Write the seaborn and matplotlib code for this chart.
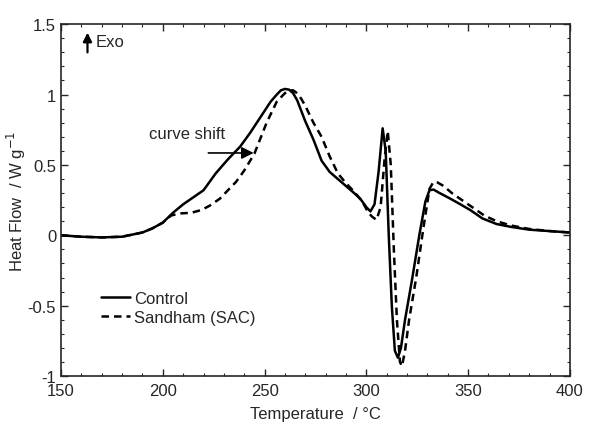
import numpy as np
import pandas as pd
import matplotlib
matplotlib.use("Agg")
import matplotlib.pyplot as plt
from matplotlib.ticker import MultipleLocator, FuncFormatter
import seaborn as sns

control_x = [150, 160, 170, 180, 190, 195, 200, 205, 210, 215, 220, 226, 232, 238, 243, 248, 253, 256, 258, 260,
             262, 264, 266, 270, 274, 278, 282, 286, 290, 294, 297, 300, 302, 304, 306, 308, 309.5, 311, 312.5,
             314, 315.5, 317, 319, 322.5, 326, 329, 331, 333, 336, 340, 345, 351, 357, 364, 371, 380, 390, 400]
control_y = [0.00, -0.01, -0.015, -0.01, 0.02, 0.05, 0.09, 0.16, 0.22, 0.27, 0.32, 0.44, 0.54, 0.63, 0.73, 0.84,
             0.95, 1.00, 1.03, 1.04, 1.035, 1.01, 0.96, 0.81, 0.68, 0.53, 0.45, 0.40, 0.35, 0.30, 0.26, 0.20,
             0.17, 0.22, 0.45, 0.76, 0.60, 0.00, -0.50, -0.82, -0.87, -0.80, -0.60, -0.31, 0.00, 0.24, 0.32,
             0.325, 0.30, 0.27, 0.23, 0.18, 0.12, 0.08, 0.06, 0.04, 0.03, 0.02]

sandham_x = [150, 160, 170, 180, 190, 195, 200, 204, 208, 214, 219, 223, 228, 232, 236, 240, 245, 251, 256, 260,
             262, 264, 266, 268, 270, 274, 278, 282, 286, 290, 294, 298, 301, 303, 305, 307, 309, 310.5, 312,
             313.5, 315, 316.5, 317.5, 319, 321, 324.5, 328, 331, 333, 335, 338, 342, 347, 352, 358, 364, 371,
             380, 390, 400]
sandham_y = [0.00, -0.01, -0.015, -0.01, 0.02, 0.05, 0.09, 0.14, 0.155, 0.16, 0.18, 0.21, 0.26, 0.32, 0.38, 0.46,
             0.58, 0.80, 0.95, 1.01, 1.03, 1.03, 1.01, 0.97, 0.92, 0.80, 0.70, 0.56, 0.44, 0.37, 0.31, 0.24, 0.16,
             0.13, 0.11, 0.20, 0.55, 0.74, 0.50, -0.10, -0.60, -0.90, -0.93, -0.82, -0.60, -0.30, 0.05, 0.33,
             0.38, 0.375, 0.35, 0.30, 0.25, 0.20, 0.14, 0.10, 0.07, 0.045, 0.03, 0.02]

series_names = ["Control", "Sandham (SAC)"]

sns.set_style("ticks")
plt.rcParams['font.family'] = ['Liberation Sans', 'DejaVu Sans']

df = pd.concat([
    pd.DataFrame({"T": control_x, "HF": control_y, "Sample": series_names[0]}),
    pd.DataFrame({"T": sandham_x, "HF": sandham_y, "Sample": series_names[1]}),
])

fig = plt.figure(figsize=(5.89, 4.27), dpi=100)
ax = fig.add_axes([0.1036, 0.117, 0.864, 0.824])

sns.lineplot(data=df, x="T", y="HF", hue="Sample", style="Sample",
             palette={series_names[0]: "black", series_names[1]: "black"},
             dashes={series_names[0]: "", series_names[1]: (3, 2)},
             linewidth=1.8, sort=False, ax=ax)

ax.set_xlim(150, 400)
ax.set_ylim(-1, 1.5)
ax.xaxis.set_major_locator(MultipleLocator(50))
ax.xaxis.set_minor_locator(MultipleLocator(10))
ax.yaxis.set_major_locator(MultipleLocator(0.5))
ax.yaxis.set_minor_locator(MultipleLocator(0.1))
ax.yaxis.set_major_formatter(FuncFormatter(lambda v, p: f"{v:g}"))
ax.tick_params(which="both", direction="in", top=True, right=True, labelsize=12)
ax.tick_params(axis="x", pad=5)
ax.tick_params(which="major", length=5, width=1)
ax.tick_params(which="minor", length=2.5, width=0.8)
for s in ax.spines.values():
    s.set_linewidth(1.2)

ax.set_xlabel("Temperature  / °C", fontsize=12, labelpad=6)
ax.set_ylabel("Heat Flow  / W g$^{-1}$", fontsize=12, labelpad=0)

leg = ax.legend(loc="upper left", bbox_to_anchor=(0.066, 0.262), frameon=False, fontsize=12,
                handlelength=1.7, handletextpad=0.25, borderaxespad=0, labelspacing=0.25)

# annotations
ax.annotate("", xy=(246, 0.585), xytext=(221, 0.585),
            arrowprops=dict(arrowstyle="-|>", color="black", lw=1.2, mutation_scale=18))
ax.text(193, 0.725, "curve shift", fontsize=12, ha="left", va="center")
ax.annotate("", xy=(163, 1.46), xytext=(163, 1.28),
            arrowprops=dict(arrowstyle="-|>", color="black", lw=1.6, mutation_scale=13))
ax.text(167, 1.375, "Exo", fontsize=12, ha="left", va="center")

fig.savefig("out.png", dpi=100)
